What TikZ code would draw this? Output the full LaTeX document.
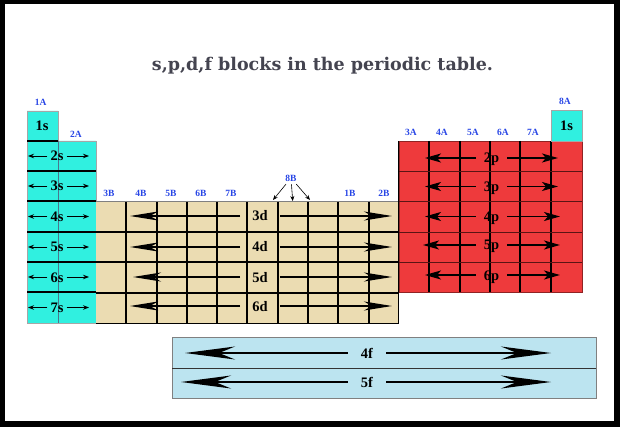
\documentclass[tikz,border=0pt]{standalone}
\usepackage{fontspec}
\setmainfont{Liberation Serif}
\newfontfamily\ttlfont{DejaVu Serif}
\usetikzlibrary{arrows.meta,calc}
\definecolor{sblk}{RGB}{48,240,224}
\definecolor{dblk}{RGB}{235,220,178}
\definecolor{pblk}{RGB}{238,58,60}
\definecolor{fblk}{RGB}{188,228,240}
\definecolor{grpblue}{RGB}{40,70,230}
\definecolor{ttlgray}{RGB}{68,68,80}
\definecolor{pline}{RGB}{90,20,20}
\tikzset{
  lbl/.style={font=\bfseries\fontsize{14.5}{16}\selectfont,text height=10pt,text depth=0pt,inner ysep=1pt},
  slbl/.style={lbl,inner xsep=3pt},
  dlbl/.style={lbl,inner xsep=12pt},
  plbl/.style={lbl,inner xsep=8pt},
  flbl/.style={lbl,inner xsep=13pt},
  grp/.style={font=\bfseries\fontsize{9.5}{10}\selectfont,text=grpblue,inner sep=2pt},
  sarr/.style={-{Stealth[length=6pt,width=4.5pt]},line width=0.9pt},
  darr/.style={-{Stealth[length=28pt,width=9pt,inset=8pt]},line width=1.3pt},
  parr/.style={-{Stealth[length=16pt,width=9pt,inset=4pt]},line width=1.3pt},
  farr/.style={-{Stealth[length=50pt,width=13pt,inset=16pt]},line width=1.6pt},
  varr/.style={-{Stealth[length=5pt,width=4pt]},line width=0.6pt,shorten <=1pt},
  cell/.style={line width=1.1pt}
}
\begin{document}
\begin{tikzpicture}[x=1pt,y=-1pt]
      \useasboundingbox (0,0) rectangle (620,427);
      \fill[black] (0,0) rectangle (620,427);
      \fill[white] (5,4) rectangle (614,421);
      \node[font=\ttlfont\bfseries\fontsize{17.5}{20}\selectfont,text=ttlgray,anchor=base] (title) at (322.5,71) {s,p,d,f blocks in the periodic table.};
      % s block
      \fill[sblk] (27,111) rectangle (58,323) (58,141) rectangle (96,323);
      \draw[gray!70] (27,323)--(27,111)--(58,111)--(58,141)--(96,141)--(96,323)--cycle;
      \draw[cyan!50!black] (58,141)--(58,323);
      \draw[cell] (27,141)--(58,141);
      \foreach \y in {171,201,232,262,292}
        \draw[cell] (27,\y)--(96,\y);
      % d block
      \fill[dblk] (96,201) rectangle (399,323);
      \foreach \x in {126,157,187,217,247,278,308,338,369}
        \draw[cell] (\x,201)--(\x,323);
      \foreach \y in {232,262,293}
        \draw[cell] (96,\y)--(399,\y);
      \draw[gray] (96,201)--(399,201);
      \draw (96,323)--(399,323);
      \draw[cell] (398.5,141)--(398.5,323);
      % p block
      \fill[pblk] (399,141) rectangle (582,292);
      \draw[pblk!60!black] (399,141) rectangle (582,292);
      \foreach \x in {429,460,490,520,551}
        \draw[cell] (\x,141)--(\x,292);
      \foreach \y in {171,201,232,262}
        \draw[pline] (399,\y)--(582,\y);
      \filldraw[fill=sblk,draw=gray!70] (551,110) rectangle (582,141);
      % f block
      \filldraw[fill=fblk,draw=gray] (172,337) rectangle (596,398);
      \draw[black!80,line width=0.8pt] (172,368)--(596,368);
      % group names
      \foreach \t/\x/\y in {1A/40.7/102,2A/76/134,3B/109/193,4B/141/193,5B/171/193,6B/201/193,7B/231/193,8B/291/178,1B/350/193,2B/384/193,3A/411/132,4A/442/132,5A/473/132,6A/503/132,7A/533/132,8A/565/101}
        \node[grp] (g\t) at (\x,\y) {\t};
      \coordinate (b8l) at (273,200);
      \coordinate (b8m) at (292.7,201);
      \coordinate (b8r) at (310,200);
      \draw[varr] (g8B)--(b8l);
      \draw[varr] (g8B)--(b8m);
      \draw[varr] (g8B)--(b8r);
      % blocks
      \node[lbl] (s1) at (42,125.5) {1s};
      \node[lbl] (s1b) at (566.5,125.5) {1s};
      \foreach \n/\y in {2/156,3/186,4/216.5,5/247,6/277,7/307.5}{
        \node[slbl] (s\n) at (57,\y) {\n s};
        \coordinate (s\n l) at (28,\y);
        \coordinate (s\n r) at (89,\y);
        \draw[sarr] (s\n.west)--(s\n l);
        \draw[sarr] (s\n.east)--(s\n r);
      }
      \foreach \n/\y/\l in {3/216/130,4/247/130,5/277/133,6/306/130}{
        \node[dlbl] (d\n) at (260,\y) {\n d};
        \coordinate (d\n l) at (\l,\y);
        \coordinate (d\n r) at (392,\y);
        \draw[darr] (d\n.west)--(d\n l);
        \draw[darr] (d\n.east)--(d\n r);
      }
      \foreach \n/\y/\l/\r in {2/158/425/558,3/186.5/425/558,4/216.5/425/560,5/245/423/560,6/275/425/560}{
        \node[plbl] (p\n) at (491.5,\y) {\n p};
        \coordinate (p\n l) at (\l,\y);
        \coordinate (p\n r) at (\r,\y);
        \draw[parr] (p\n.west)--(p\n l);
        \draw[parr] (p\n.east)--(p\n r);
      }
      \foreach \n/\y/\l in {4/353/185,5/382/181}{
        \node[flbl] (f\n) at (367,\y) {\n f};
        \coordinate (f\n l) at (\l,\y);
        \coordinate (f\n r) at (551,\y);
        \draw[farr] (f\n.west)--(f\n l);
        \draw[farr] (f\n.east)--(f\n r);
      }
    \end{tikzpicture}
\end{document}
